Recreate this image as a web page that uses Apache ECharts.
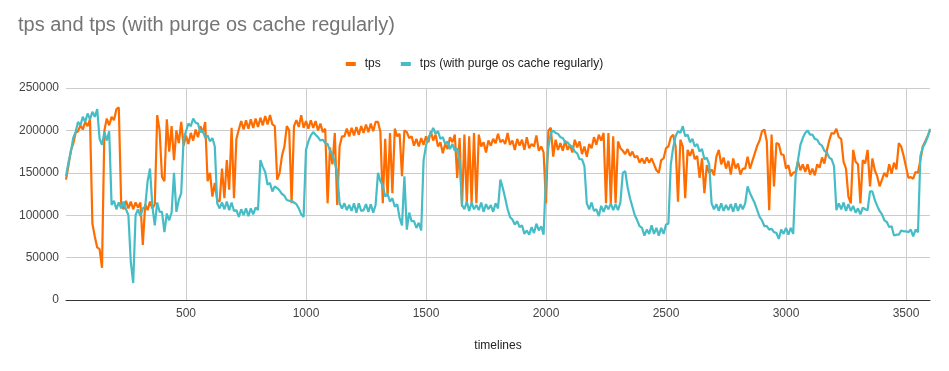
<!DOCTYPE html>
<html><head><meta charset="utf-8">
<script src="https://cdn.jsdelivr.net/npm/echarts/dist/echarts.min.js"></script>
<style>html,body{margin:0;padding:0;background:#fff}#c{width:949px;height:371px}</style>
</head><body><div id="c"></div>
<script>
// sampling step of the readings below (seconds on the "timelines" axis)
const STEP_SECONDS = 10;
const seriesNames = ['tps', 'tps (with purge os cache regularly)'];
const xTickValues = [500, 1000, 1500, 2000, 2500, 3000, 3500];
const yTickValues = [0, 50000, 100000, 150000, 200000, 250000];

const tps = [
142000,158000,176000,184000,197000,199000,206000,201000,210000,205000,
213000,90000,75000,62000,60000,38000,200000,214000,206000,216000,
212000,225000,227000,113000,107000,117000,108000,116000,107000,115000,
109000,115000,65000,113000,106000,116000,108000,113000,218000,200000,
145000,140000,213000,175000,205000,165000,200000,185000,210000,182000,
194000,184000,197000,188000,201000,192000,205000,197000,210000,140000,
150000,122000,138000,118000,116000,155000,120000,165000,130000,203000,
120000,190000,201000,211000,201000,212000,202000,213000,203000,214000,
204000,215000,206000,217000,207000,218000,207000,205000,142000,150000,
170000,181000,205000,200000,114000,205000,212000,204000,218000,203000,
211000,202000,212000,203000,211000,200000,208000,198000,202000,114000,
180000,160000,197000,112000,181000,193000,193000,202000,193000,203000,
194000,204000,195000,205000,197000,207000,198000,208000,199000,210000,
210000,198000,114000,190000,122000,197000,126000,202000,193000,196000,
146000,200000,198000,191000,193000,182000,190000,181000,191000,183000,
193000,186000,199000,188000,195000,181000,186000,173000,184000,178000,
192000,186000,195000,144000,191000,110000,195000,114000,193000,114000,
197000,114000,195000,181000,186000,174000,188000,182000,190000,185000,
196000,186000,189000,184000,197000,183000,188000,177000,190000,182000,
189000,177000,192000,179000,184000,181000,194000,176000,181000,174000,
114000,200000,203000,169000,189000,177000,185000,176000,188000,177000,
183000,174000,189000,180000,187000,172000,181000,169000,184000,179000,
192000,183000,195000,188000,197000,114000,197000,114000,193000,114000,
187000,179000,176000,172000,178000,170000,175000,168000,170000,162000,
167000,161000,168000,162000,167000,160000,153000,150000,165000,167000,
179000,181000,192000,195000,181000,116000,189000,181000,120000,177000,
170000,178000,166000,170000,144000,167000,126000,159000,150000,154000,
147000,169000,177000,160000,168000,155000,164000,148000,167000,155000,
161000,148000,155000,155000,169000,155000,164000,173000,182000,188000,
199000,201000,187000,106000,195000,134000,185000,184000,172000,171000,
155000,159000,146000,150000,151000,164000,153000,160000,151000,160000,
148000,155000,147000,160000,156000,168000,161000,176000,188000,197000,
196000,202000,192000,190000,163000,155000,122000,114000,177000,163000,
160000,114000,165000,161000,177000,134000,167000,153000,146000,134000,
142000,150000,145000,160000,149000,162000,154000,185000,181000,170000,
157000,144000,145000,143000,151000,150000,165000,181000,187000,193000,
200000
];

const tpsPurge = [
146000,162000,174000,191000,198000,210000,206000,216000,210000,220000,
213000,222000,216000,225000,190000,183000,198000,188000,199000,112000,
117000,107000,115000,108000,116000,107000,100000,45000,20000,100000,
107000,99000,108000,110000,140000,155000,110000,88000,115000,104000,
104000,80000,102000,94000,103000,150000,104000,118000,126000,190000,
199000,208000,205000,214000,209000,208000,198000,200000,191000,194000,
187000,191000,181000,114000,108000,115000,107000,116000,106000,115000,
105000,106000,98000,107000,100000,108000,99000,108000,101000,109000,
106000,165000,157000,151000,136000,138000,128000,134000,132000,129000,
125000,123000,118000,117000,117000,115000,113000,108000,101000,98000,
177000,187000,194000,198000,195000,192000,188000,189000,185000,184000,
176000,172000,162000,150000,114000,108000,114000,106000,112000,105000,
114000,103000,114000,105000,106000,113000,104000,113000,103000,112000,
150000,140000,135000,122000,125000,116000,120000,110000,113000,97000,
88000,146000,83000,103000,93000,93000,85000,91000,82000,165000,
182000,192000,196000,203000,196000,199000,190000,192000,184000,187000,
178000,184000,176000,179000,165000,112000,107000,116000,105000,115000,
107000,112000,106000,115000,104000,113000,107000,112000,104000,114000,
108000,142000,132000,120000,107000,98000,95000,89000,93000,86000,
88000,78000,82000,77000,86000,79000,90000,82000,87000,77000,
150000,180000,197000,200000,197000,196000,192000,191000,186000,186000,
182000,181000,175000,173000,166000,166000,158000,114000,107000,115000,
105000,107000,99000,111000,104000,112000,107000,114000,106000,113000,
106000,115000,150000,152000,133000,120000,110000,100000,94000,87000,
85000,76000,83000,78000,88000,78000,85000,76000,85000,78000,
89000,90000,160000,180000,193000,199000,197000,205000,193000,195000,
186000,190000,181000,184000,175000,178000,166000,168000,160000,114000,
107000,113000,105000,114000,105000,112000,106000,113000,104000,114000,
105000,113000,107000,114000,134000,126000,120000,114000,106000,98000,
94000,87000,87000,83000,84000,80000,79000,72000,83000,78000,
85000,77000,85000,78000,146000,165000,183000,191000,197000,200000,
195000,195000,190000,189000,184000,182000,176000,174000,168000,166000,
158000,106000,114000,107000,115000,105000,113000,105000,111000,103000,
108000,101000,109000,107000,106000,128000,128000,118000,111000,105000,
101000,94000,92000,86000,87000,76000,77000,77000,82000,81000,
81000,80000,83000,75000,83000,80000,170000,180000,185000,192000,
202000
];

const FONT = '"Liberation Sans", Arial, sans-serif';
const chart = echarts.init(document.getElementById('c'), null, {renderer: 'canvas'});
chart.setOption({
  animation: false,
  backgroundColor: '#ffffff',
  title: {
    text: 'tps and tps (with purge os cache regularly)',
    left: 13, top: 10,
    textStyle: {fontFamily: FONT, fontSize: 20, fontWeight: 'normal', color: '#757575'}
  },
  legend: {
    data: seriesNames,
    top: 53, left: 'center',
    icon: 'rect', itemWidth: 10, itemHeight: 4, itemGap: 20,
    textStyle: {fontFamily: FONT, fontSize: 12, color: '#222', padding: [0, 0, 0, 4]}
  },
  grid: {left: 66, right: 19, top: 88, bottom: 71, containLabel: false},
  xAxis: {
    type: 'value', min: 0, max: 3600, interval: 500,
    name: 'timelines', nameLocation: 'middle', nameGap: 40,
    nameTextStyle: {fontFamily: FONT, fontSize: 12, color: '#222'},
    axisLine: {show: true, lineStyle: {color: '#333', width: 1}},
    axisTick: {show: false},
    axisLabel: {
      fontFamily: FONT, fontSize: 12, color: '#444', margin: 8,
      formatter: v => xTickValues.includes(v) ? String(v) : ''
    },
    splitLine: {show: true, showMinLine: false, showMaxLine: false, lineStyle: {color: '#cccccc', width: 1}}
  },
  yAxis: {
    type: 'value', min: yTickValues[0], max: yTickValues[yTickValues.length - 1], interval: 50000,
    axisLine: {show: false}, axisTick: {show: false},
    axisLabel: {fontFamily: FONT, fontSize: 12, color: '#444', margin: 7, formatter: v => String(v)},
    splitLine: {show: true, lineStyle: {color: '#cccccc', width: 1}}
  },
  series: [
    {
      name: seriesNames[0], type: 'line', showSymbol: false, symbol: 'none',
      color: '#ff6d01', lineStyle: {width: 2.2, color: '#ff6d01'},
      data: tps.map((v, i) => [i * STEP_SECONDS, v])
    },
    {
      name: seriesNames[1], type: 'line', showSymbol: false, symbol: 'none',
      color: '#46bdc6', lineStyle: {width: 2.2, color: '#46bdc6'},
      data: tpsPurge.map((v, i) => [i * STEP_SECONDS, v])
    }
  ]
});
</script></body></html>
